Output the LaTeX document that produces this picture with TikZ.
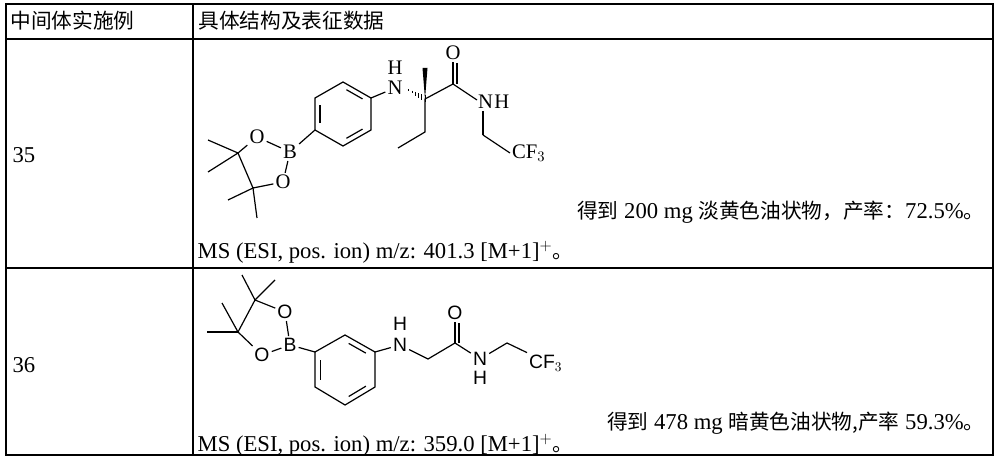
\documentclass[tikz,border=0pt]{standalone}
\usepackage{fontspec}
\setmainfont{Liberation Serif}
\newfontfamily\cjk{Noto Sans CJK SC}
\newfontfamily\arl{Liberation Sans}
\usetikzlibrary{calc}
\begin{document}
\begin{tikzpicture}[x=0.75pt,y=-0.75pt,line width=0.9pt,
  tx/.style={font=\fontsize{17}{19}\selectfont,inner sep=0pt},
  atm/.style={font=\fontsize{15.5}{17}\selectfont,inner sep=1.2pt},
  ats/.style={font=\arl\fontsize{14.5}{17}\selectfont,inner sep=1.2pt},
  bd/.style={line width=0.9pt}]
\useasboundingbox (0,0) rectangle (1000,463);
% table
\draw[line width=0.8pt] (6,4) rectangle (993,455);
\draw[line width=0.8pt] (6,39) -- (993,39);
\draw[line width=0.8pt] (6,268) -- (993,268);
\draw[line width=0.8pt] (193,4) -- (193,455);
\node[tx,anchor=west] (h1) at (10,21) {\cjk\fontsize{15.5}{17}\selectfont 中间体实施例};
\node[tx,anchor=west] (h2) at (198,21) {\cjk\fontsize{15.5}{17}\selectfont 具体结构及表征数据};
\node[tx,anchor=west] (r1) at (12,155) {35};
\node[tx,anchor=west] (r2) at (12,365) {36};
\node[tx,anchor=east] (y1) at (985,212) {{\cjk\fontsize{15.5}{17}\selectfont 得到} 200 mg {\cjk\fontsize{15.5}{17}\selectfont 淡黄色油状物，产率：}72.5\%{\cjk\fontsize{15.5}{17}\selectfont 。}};
\node[tx,anchor=west] (m1) at (197,252) {MS (ESI, pos. ion) m/z: 401.3 [M+1]$^{+}${\cjk\fontsize{15.5}{17}\selectfont 。}};
\node[tx,anchor=east] (y2) at (985,423) {{\cjk\fontsize{15.5}{17}\selectfont 得到} 478 mg {\cjk\fontsize{15.5}{17}\selectfont 暗黄色油状物,产率} 59.3\%{\cjk\fontsize{15.5}{17}\selectfont 。}};
\node[tx,anchor=west] (m2) at (197,445) {MS (ESI, pos. ion) m/z: 359.0 [M+1]$^{+}${\cjk\fontsize{15.5}{17}\selectfont 。}};

% ---------- structure 1 ----------
\coordinate (a1) at (343,82); \coordinate (a2) at (371,98); \coordinate (a3) at (371,130);
\coordinate (a4) at (343,146); \coordinate (a5) at (315,130); \coordinate (a6) at (315,98);
\draw[bd] (a1)--(a2)--(a3)--(a4)--(a5)--(a6)--cycle;
\coordinate (ac) at (343,114);
\draw[bd] ($(a1)!0.15!(a2)!0.18!(ac)$)--($(a2)!0.15!(a1)!0.18!(ac)$);
\draw[bd] ($(a3)!0.15!(a4)!0.18!(ac)$)--($(a4)!0.15!(a3)!0.18!(ac)$);
\draw[bd] ($(a5)!0.15!(a6)!0.18!(ac)$)--($(a6)!0.15!(a5)!0.18!(ac)$);
\node[atm] (B1) at (290,152) {B};
\node[atm] (O1a) at (257,137) {O};
\node[atm] (O1b) at (283,182) {O};
\coordinate (C1a) at (238,153); \coordinate (C1b) at (253,188);
\draw[bd] (B1)--(a5); \draw[bd] (B1)--(O1a); \draw[bd] (B1)--(O1b);
\draw[bd] (O1a)--(C1a)--(C1b)--(O1b);
\coordinate (m1a) at (208,140); \coordinate (m1b) at (208,172);
\coordinate (m1c) at (228,200); \coordinate (m1d) at (257,218);
\draw[bd] (C1a)--(m1a); \draw[bd] (C1a)--(m1b); \draw[bd] (C1b)--(m1c); \draw[bd] (C1b)--(m1d);
\node[atm] (N1) at (395,88) {N};
\node[atm] (H1) at (395,68) {H};
\draw[bd] (a2)--(N1);
\coordinate (cc) at (425,99);
\foreach \t in {0.2,0.36,0.52,0.68,0.84,1.0}{
  \draw[line width=0.7pt] ($(N1.east)!\t!(cc)+(0,-3.5*\t)$) -- ($(N1.east)!\t!(cc)+(0,3.5*\t)$);}
\coordinate (me) at (425,68);
\fill (cc) -- ($(me)+(-2.5,0)$) -- ($(me)+(2.5,0)$) -- cycle;
\coordinate (co1) at (453,84);
\node[atm] (Ox1) at (453,53) {O};
\draw[bd] (cc)--(co1);
\draw[bd] (co1)--(Ox1); \draw[bd] ($(co1)+(4,0)$)--($(Ox1.south)+(4,1)$);
\node[atm,anchor=west] (NH1) at (476,102) {N\kern1pt H};
\draw[bd] (co1)--($(NH1.west)+(1,-2)$);
\coordinate (ch1) at (483,135);
\draw[bd] ($(NH1.south west)+(7,0)$)--(ch1);
\node[atm,anchor=west] (CF1) at (510,153) {CF$_3$};
\draw[bd] (ch1)--(CF1.west);
\coordinate (e1) at (425,132); \coordinate (e2) at (398,148);
\draw[bd] (cc)--(e1)--(e2);

% ---------- structure 2 ----------
\coordinate (b1) at (345,335); \coordinate (b2) at (375,352); \coordinate (b3) at (375,387);
\coordinate (b4) at (345,405); \coordinate (b5) at (315,387); \coordinate (b6) at (315,352);
\coordinate (bc) at (345,370);
\draw[bd] (b1)--(b2)--(b3)--(b4)--(b5)--(b6)--cycle;
\draw[bd] ($(b1)!0.15!(b2)!0.18!(bc)$)--($(b2)!0.15!(b1)!0.18!(bc)$);
\draw[bd] ($(b3)!0.15!(b4)!0.18!(bc)$)--($(b4)!0.15!(b3)!0.18!(bc)$);
\draw[bd] ($(b5)!0.15!(b6)!0.18!(bc)$)--($(b6)!0.15!(b5)!0.18!(bc)$);
\node[ats] (B2) at (290,345) {B};
\node[ats] (O2a) at (285,312) {O};
\node[ats] (O2b) at (262,355) {O};
\coordinate (C2a) at (255,300); \coordinate (C2b) at (238,332);
\draw[bd] (B2)--(b6); \draw[bd] (B2)--(O2a); \draw[bd] (B2)--(O2b);
\draw[bd] (O2a)--(C2a)--(C2b)--(O2b);
\coordinate (m2a) at (242,275); \coordinate (m2b) at (275,280);
\coordinate (m2c) at (222,303); \coordinate (m2d) at (207,332);
\draw[bd] (C2a)--(m2a); \draw[bd] (C2a)--(m2b); \draw[bd] (C2b)--(m2c); \draw[bd] (C2b)--(m2d);
\node[ats] (N2) at (400,345) {N};
\node[ats] (H2) at (400,324) {H};
\draw[bd] (b2)--(N2);
\coordinate (ch2) at (428,359);
\coordinate (co2) at (455,343);
\node[ats] (Ox2) at (455,313) {O};
\draw[bd] (N2)--(ch2)--(co2);
\draw[bd] (co2)--(Ox2); \draw[bd] ($(co2)+(4,0)$)--($(Ox2.south)+(4,1)$);
\node[ats] (N3) at (480,359) {N};
\node[ats] (H3) at (480,378) {H};
\draw[bd] (co2)--(N3);
\coordinate (ch3) at (507,343);
\draw[bd] (N3)--(ch3);
\node[ats,anchor=west] (CF2) at (527,363) {CF$_3$};
\draw[bd] (ch3)--(CF2.north west);
\end{tikzpicture}
\end{document}
